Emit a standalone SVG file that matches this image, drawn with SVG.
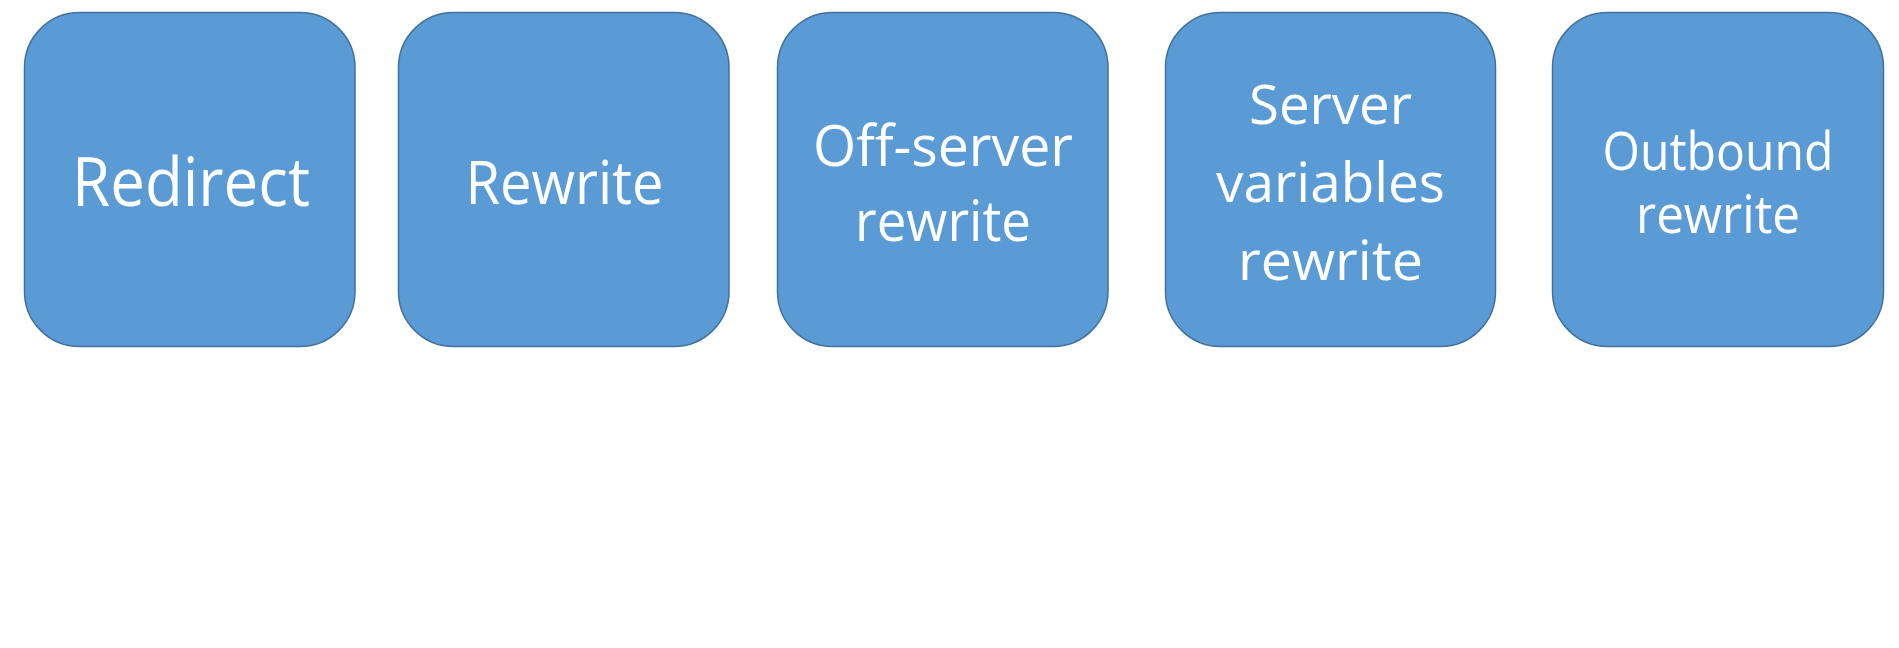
<svg xmlns="http://www.w3.org/2000/svg" width="1899" height="648" viewBox="0 0 1899 648">
<style>
.box{fill:#5B9BD5;stroke:#41719C;stroke-width:1.5}
.lbl{fill:#FFFFFF;font-family:"Open Sans","Noto Sans",sans-serif;text-anchor:middle}
</style>
<rect width="1899" height="648" fill="#FFFFFF"/>
<g id="connectors"></g>
<g id="redirect">
<rect class="box" x="24.5" y="12.5" width="330.5" height="334" rx="55" ry="55"/>
<text class="lbl" x="191" y="206" font-size="67" textLength="238" lengthAdjust="spacingAndGlyphs">Redirect</text>
</g>
<g id="rewrite">
<rect class="box" x="398.5" y="12.5" width="330.5" height="334" rx="55" ry="55"/>
<text class="lbl" x="564.5" y="203.5" font-size="60" textLength="198" lengthAdjust="spacingAndGlyphs">Rewrite</text>
</g>
<g id="off-server-rewrite">
<rect class="box" x="777.5" y="12.5" width="330.5" height="334" rx="55" ry="55"/>
<text class="lbl" font-size="56"><tspan x="943" y="166" textLength="260" lengthAdjust="spacingAndGlyphs">Off-server</tspan><tspan x="943" y="241" textLength="176" lengthAdjust="spacingAndGlyphs">rewrite</tspan></text>
</g>
<g id="server-variables-rewrite">
<rect class="box" x="1165.5" y="12.5" width="330" height="334" rx="55" ry="55"/>
<text class="lbl" font-size="54"><tspan x="1330.5" y="123.5" textLength="163" lengthAdjust="spacingAndGlyphs">Server</tspan><tspan x="1330.5" y="202" textLength="229" lengthAdjust="spacingAndGlyphs">variables</tspan><tspan x="1330.5" y="279.5" textLength="185" lengthAdjust="spacingAndGlyphs">rewrite</tspan></text>
</g>
<g id="outbound-rewrite">
<rect class="box" x="1552.5" y="12.5" width="331" height="334" rx="55" ry="55"/>
<text class="lbl" font-size="53"><tspan x="1718" y="169.5" textLength="231" lengthAdjust="spacingAndGlyphs">Outbound</tspan><tspan x="1718" y="232.5" textLength="164" lengthAdjust="spacingAndGlyphs">rewrite</tspan></text>
</g>
</svg>
